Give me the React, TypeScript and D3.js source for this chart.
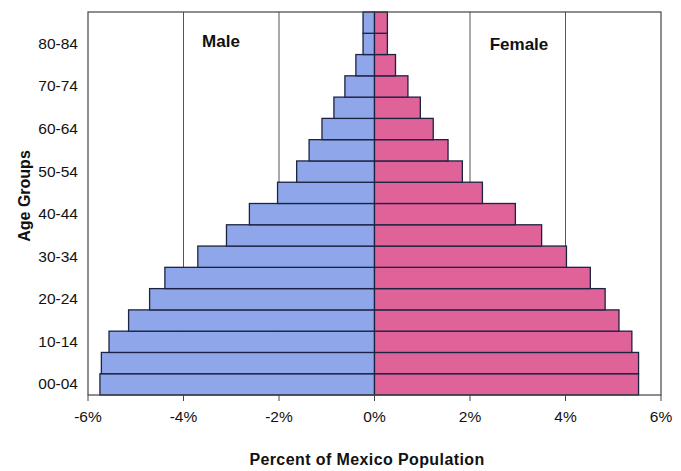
import React from "react";
import * as d3 from "d3";

const ageGroups = ["00-04","05-09","10-14","15-19","20-24","25-29","30-34","35-39","40-44","45-49","50-54","55-59","60-64","65-69","70-74","75-79","80-84","85+"];
const maleValues = [5.75,5.72,5.56,5.15,4.71,4.39,3.70,3.10,2.62,2.03,1.63,1.37,1.10,0.85,0.62,0.39,0.24,0.24];
const femaleValues = [5.53,5.53,5.39,5.12,4.83,4.52,4.02,3.50,2.95,2.26,1.84,1.54,1.23,0.96,0.70,0.44,0.27,0.27];
const xTicks = [-6,-4,-2,0,2,4,6];
const gridTicks = [-4,-2,2,4];
const labeledGroups = ["00-04","10-14","20-24","30-34","40-44","50-54","60-64","70-74","80-84"];

const W = 681, H = 471;
const left = 88, right = 661, top = 12, bottom = 395;
const font = "Liberation Sans, Arial, sans-serif";

export default function App() {
  const x = d3.scaleLinear().domain([-6, 6]).range([left, right]);
  const y = d3.scaleBand<string>().domain([...ageGroups].reverse()).range([top, bottom]).padding(0);
  const bw = y.bandwidth();
  return (
    <svg width={W} height={H} style={{ position: "absolute", left: 0, top: 0, background: "#fff" }}>
      <rect x={0} y={0} width={W} height={H} fill="#fff" />
      {gridTicks.map(t => (
        <line key={t} x1={x(t)} x2={x(t)} y1={top} y2={bottom} stroke="#555" strokeWidth={1} />
      ))}
      {ageGroups.map((g, i) => (
        <g key={g}>
          <rect x={x(-maleValues[i])} y={y(g)} width={x(0) - x(-maleValues[i])} height={bw}
            fill="#8fa7ea" stroke="#1c2340" strokeWidth={1.3} />
          <rect x={x(0)} y={y(g)} width={x(femaleValues[i]) - x(0)} height={bw}
            fill="#df6299" stroke="#1c2340" strokeWidth={1.3} />
        </g>
      ))}
      <rect x={left} y={top} width={right - left} height={bottom - top} fill="none" stroke="#444" strokeWidth={1.2} />
      {xTicks.map(t => (
        <g key={t}>
          <line x1={x(t)} x2={x(t)} y1={bottom} y2={bottom + 6} stroke="#444" strokeWidth={1} />
          <text x={x(t)} y={422} textAnchor="middle" fontFamily={font} fontSize={15.5} fill="#111">{t + "%"}</text>
        </g>
      ))}
      {labeledGroups.map(g => (
        <text key={g} x={78} y={(y(g) as number) + bw / 2 + 5} textAnchor="end" fontFamily={font} fontSize={15.5} fill="#111">{g}</text>
      ))}
      <text transform={`translate(30,196) rotate(-90)`} textAnchor="middle" fontFamily={font} fontSize={16} fontWeight="bold" fill="#111">Age Groups</text>
      <text x={367} y={465} textAnchor="middle" fontFamily={font} fontSize={16} fontWeight="bold" letterSpacing={0.4} fill="#111">Percent of Mexico Population</text>
      <text x={221} y={47} textAnchor="middle" fontFamily={font} fontSize={17} fontWeight="bold" fill="#111">Male</text>
      <text x={519} y={50} textAnchor="middle" fontFamily={font} fontSize={17} fontWeight="bold" fill="#111">Female</text>
    </svg>
  );
}
